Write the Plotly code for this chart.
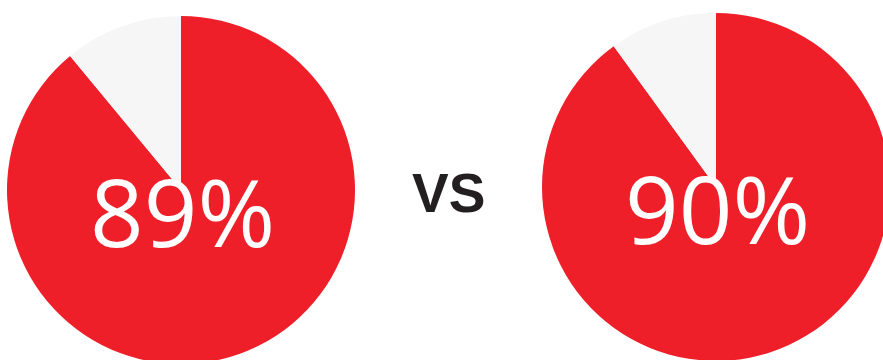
import plotly.graph_objects as go

# Share of respondents, two groups
labels = ["Yes", "Other"]
left_values = [89, 11]
right_values = [90, 10]
middle_label = "VS"

RED = "#ee1f29"
GREY = "#f6f6f6"
INK = "#231f20"

# Canvas is slightly larger than the visible window so the pies bleed off the edges
W, H = 900, 380


def xdom(cx, r):
    return [(cx - r) / W, (cx + r) / W]


def ydom(cy, r):
    return [(H - (cy + r)) / H, (H - (cy - r)) / H]


def px_x(x):
    return x / W


def px_y(y):
    return (H - y) / H


fig = go.Figure()

pies = [
    (left_values, 181, 190, 174),
    (right_values, 716, 187, 174),
]
for vals, cx, cy, r in pies:
    fig.add_trace(go.Pie(
        labels=labels,
        values=vals,
        sort=False,
        direction="clockwise",
        rotation=0,
        marker=dict(colors=[RED, GREY], line=dict(width=0)),
        textinfo="none",
        hoverinfo="skip",
        showlegend=False,
        domain=dict(x=xdom(cx, r), y=ydom(cy, r)),
    ))

# Percentage captions
captions = [
    (f"{left_values[0]}%", 182, 211),
    (f"{right_values[0]}%", 717, 208),
]
for text, x, y in captions:
    fig.add_annotation(
        text=text, x=px_x(x), y=px_y(y), xref="paper", yref="paper",
        xanchor="center", yanchor="middle", showarrow=False,
        font=dict(family="Open Sans", size=94, color="white"),
    )

fig.add_annotation(
    text=f"<b>{middle_label}</b>", x=px_x(448), y=px_y(193),
    xref="paper", yref="paper", xanchor="center", yanchor="middle",
    showarrow=False,
    font=dict(family="Liberation Sans", size=55, color=INK),
)

fig.update_layout(
    width=W, height=H,
    margin=dict(l=0, r=0, t=0, b=0),
    paper_bgcolor="white",
    plot_bgcolor="white",
)

fig.write_html(
    "out.html",
    config={"displayModeBar": False},
    post_script="document.documentElement.style.overflow='hidden';document.body.style.overflow='hidden';document.body.style.margin='0';",
)
